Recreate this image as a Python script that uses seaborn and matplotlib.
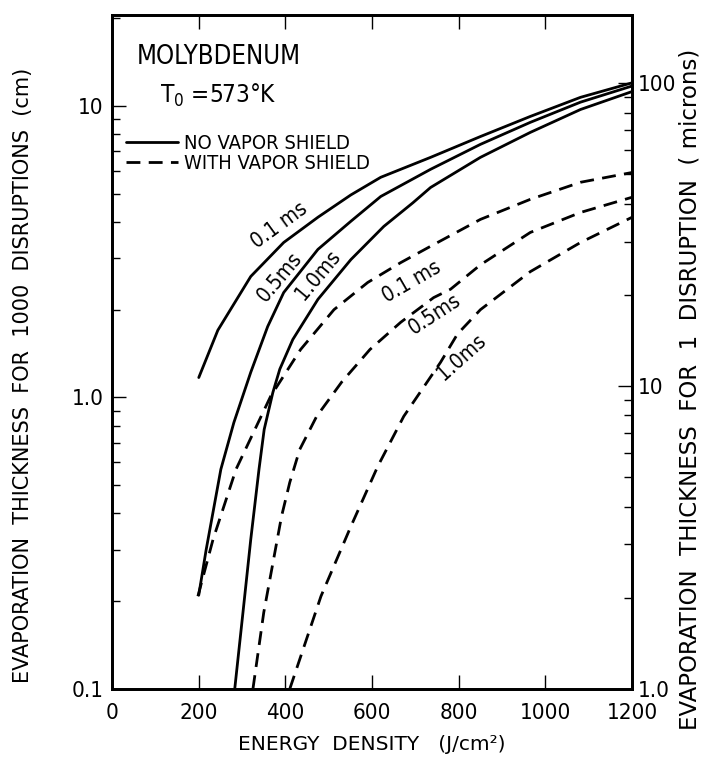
import matplotlib
matplotlib.use('Agg')
import matplotlib.pyplot as plt
import seaborn as sns
from matplotlib.lines import Line2D
from matplotlib.ticker import FixedLocator, FixedFormatter, LogLocator, NullFormatter

# energy density (J/cm2) vs evaporation thickness for 1000 disruptions (cm)
no_shield_01_e = [200, 244, 320, 396, 475, 551, 620, 735, 850, 965, 1081, 1200]
no_shield_01_v = [1.17, 1.70, 2.60, 3.40, 4.15, 4.95, 5.69, 6.66, 7.85, 9.20, 10.7, 12.0]

no_shield_05_e = [200, 217, 251, 281, 320, 359, 396, 475, 551, 620, 735, 850, 965, 1081, 1200]
no_shield_05_v = [0.21, 0.30, 0.567, 0.82, 1.22, 1.75, 2.29, 3.22, 4.02, 4.89, 6.06, 7.38, 8.78, 10.3, 11.7]

no_shield_10_e = [283, 302, 320, 339, 351, 371, 387, 417, 475, 551, 627, 694, 735, 850, 965, 1081, 1200]
no_shield_10_v = [0.1, 0.183, 0.326, 0.567, 0.777, 1.04, 1.25, 1.58, 2.17, 2.97, 3.86, 4.65, 5.25, 6.66, 8.11, 9.72, 11.2]

shield_01_e = [198, 233, 286, 366, 435, 512, 590, 666, 735, 850, 965, 1081, 1200]
shield_01_v = [0.208, 0.326, 0.567, 1.01, 1.46, 2.00, 2.48, 2.90, 3.30, 4.08, 4.78, 5.47, 5.91]

shield_05_e = [325, 350, 391, 410, 433, 472, 530, 595, 666, 742, 781, 850, 965, 1081, 1200]
shield_05_v = [0.1, 0.183, 0.391, 0.511, 0.663, 0.861, 1.13, 1.46, 1.81, 2.20, 2.35, 2.85, 3.68, 4.31, 4.86]

shield_10_e = [410, 482, 551, 613, 673, 758, 797, 850, 965, 1081, 1200]
shield_10_v = [0.1, 0.208, 0.361, 0.58, 0.861, 1.32, 1.65, 2.00, 2.70, 3.40, 4.15]

x_ticks = [0, 200, 400, 600, 800, 1000, 1200]
left_ticks = [0.1, 1.0, 10]
left_labels = ['0.1', '1.0', '10']
right_ticks = [1, 10, 100]
right_labels = ['1.0', '10', '100']

sns.set_style('ticks')
plt.rcParams['font.family'] = ['DejaVu Sans']
plt.rcParams['font.stretch'] = 'condensed'
plt.rcParams['text.color'] = 'black'
plt.rcParams['axes.labelcolor'] = 'black'
plt.rcParams['xtick.color'] = 'black'
plt.rcParams['ytick.color'] = 'black'
plt.rcParams['mathtext.fontset'] = 'dejavusans'

fig = plt.figure(figsize=(7.14, 7.77), dpi=100)
ax = fig.add_axes([0.157, 0.1133, 0.7283, 0.8674])

solid = dict(color='black', linewidth=2.0, estimator=None, sort=False, ax=ax)
dashed = dict(color='black', linewidth=2.0, estimator=None, sort=False, ax=ax,
              linestyle=(0, (5, 3)))

sns.lineplot(x=no_shield_01_e, y=no_shield_01_v, **solid)
sns.lineplot(x=no_shield_05_e, y=no_shield_05_v, **solid)
sns.lineplot(x=no_shield_10_e, y=no_shield_10_v, **solid)
sns.lineplot(x=shield_01_e, y=shield_01_v, **dashed)
sns.lineplot(x=shield_05_e, y=shield_05_v, **dashed)
sns.lineplot(x=shield_10_e, y=shield_10_v, **dashed)

ax.set_yscale('log')
ax.set_xlim(0, 1200)
ax.set_ylim(0.1, 20.5)

ax.xaxis.set_major_locator(FixedLocator(x_ticks))
ax.set_xticklabels([str(t) for t in x_ticks])
ax.yaxis.set_major_locator(FixedLocator(left_ticks))
ax.yaxis.set_major_formatter(FixedFormatter(left_labels))
ax.yaxis.set_minor_locator(LogLocator(base=10, subs=range(2, 10)))
ax.yaxis.set_minor_formatter(NullFormatter())
ax.tick_params(axis='both', which='major', direction='in', length=10, width=1,
               labelsize=16, top=True, pad=6)
ax.tick_params(axis='x', which='major', pad=10)
ax.tick_params(axis='y', which='minor', direction='in', length=5.5, width=1)
ax.tick_params(axis='y', which='both', right=False)

ax2 = ax.twinx()
ax2.set_yscale('log')
ax2.set_ylim(1, 168)
ax2.yaxis.set_major_locator(FixedLocator(right_ticks))
ax2.yaxis.set_major_formatter(FixedFormatter(right_labels))
ax2.yaxis.set_minor_locator(LogLocator(base=10, subs=range(2, 10)))
ax2.yaxis.set_minor_formatter(NullFormatter())
ax2.tick_params(axis='y', which='major', direction='in', length=10, width=1,
                labelsize=16, pad=4)
ax2.tick_params(axis='y', which='minor', direction='in', length=5.5, width=1)

for a in (ax, ax2):
    for s in a.spines.values():
        s.set_linewidth(2.0)
        s.set_color('black')

ax.set_xlabel('ENERGY  DENSITY   (J/cm²)', fontstretch='normal', fontsize=14.5)
ax.xaxis.set_label_coords(0.5, -0.068)
ax.set_ylabel('EVAPORATION  THICKNESS  FOR  1000  DISRUPTIONS  (cm)', fontstretch='normal',
              fontsize=15)
ax.yaxis.set_label_coords(-0.152, 0.466)
ax2.set_ylabel('EVAPORATION  THICKNESS  FOR  1  DISRUPTION  ( microns)', fontstretch='normal',
               fontsize=16.5)
ax2.yaxis.set_label_coords(1.09, 0.445)

ax.text(0.048, 0.938, 'MOLYBDENUM', transform=ax.transAxes, fontsize=18.5, va='center')
ax.text(0.092, 0.881, r'T$_\mathregular{0}$ =573°K', transform=ax.transAxes, fontsize=17.5,
        va='center')

handles = [Line2D([], [], color='black', linewidth=2.0),
           Line2D([], [], color='black', linewidth=2.0, linestyle=(0, (5, 3)))]
ax.legend(handles, ['NO VAPOR SHIELD', 'WITH VAPOR SHIELD'], loc='upper left',
          bbox_to_anchor=(0.027, 0.823), frameon=False, fontsize=14.5,
          handlelength=2.6, handletextpad=0.25, labelspacing=0.05, borderpad=0,
          borderaxespad=0)

label_kw = dict(fontsize=15, ha='center', va='center', rotation_mode='anchor')
ax.text(387, 3.89, '0.1 ms', rotation=36, **label_kw)
ax.text(387, 2.60, '0.5ms', rotation=50, **label_kw)
ax.text(475, 2.64, '1.0ms', rotation=50, **label_kw)
ax.text(692, 2.50, '0.1 ms', rotation=30, **label_kw)
ax.text(745, 1.93, '0.5ms', rotation=33, **label_kw)
ax.text(806, 1.38, '1.0ms', rotation=42, **label_kw)

fig.savefig('out.png', dpi=100, facecolor='white')
